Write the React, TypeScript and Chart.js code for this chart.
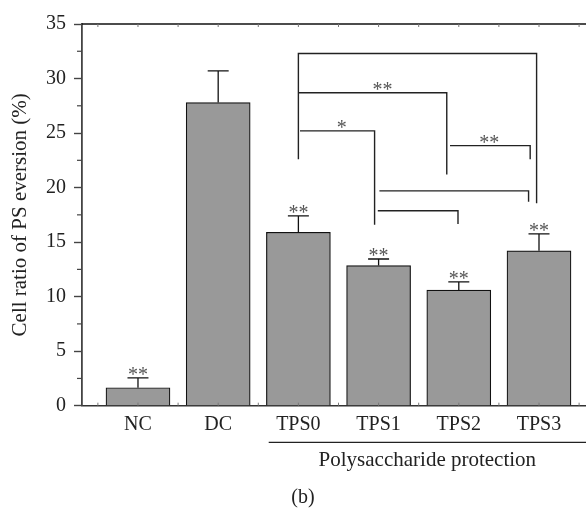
import React, { useEffect, useRef } from "react";
import { Chart, registerables } from "chart.js";

Chart.register(...registerables);

const categories = ["NC", "DC", "TPS0", "TPS1", "TPS2", "TPS3"];
const values = [1.65, 27.8, 15.9, 12.85, 10.6, 14.2];
const errors = [0.9, 2.9, 1.5, 0.6, 0.75, 1.55];
const barStars = ["**", "", "**", "**", "**", "**"];
const yTicks = [0, 5, 10, 15, 20, 25, 30, 35];
const yMinorTicks = [2.5, 7.5, 12.5, 17.5, 22.5, 27.5, 32.5];

// significance brackets: polylines in data units (x = category position, y = value)
const brackets: { pts: number[][]; label: string; lx: number; ly: number }[] = [
  { pts: [[3.0, 22.6], [3.0, 32.3], [5.97, 32.3], [5.97, 18.56]], label: "", lx: 0, ly: 0 },
  { pts: [[3.0, 28.7], [4.85, 28.7], [4.85, 21.2]], label: "**", lx: 4.05, ly: 28.7 },
  { pts: [[3.02, 25.2], [3.95, 25.2], [3.95, 16.6]], label: "*", lx: 3.54, ly: 25.2 },
  { pts: [[4.89, 23.85], [5.89, 23.85], [5.89, 22.6]], label: "**", lx: 5.38, ly: 23.85 },
  { pts: [[4.01, 19.7], [5.87, 19.7], [5.87, 18.7]], label: "", lx: 0, ly: 0 },
  { pts: [[3.99, 17.88], [4.99, 17.88], [4.99, 16.66]], label: "", lx: 0, ly: 0 },
];

const yTitle = "Cell ratio of PS eversion (%)";
const groupLabel = "Polysaccharide protection";
const groupStart = 2.63;
const panelLabel = "(b)";

const FONT = "'Liberation Serif', 'Times New Roman', serif";

const overlay = {
  id: "overlay",
  afterDatasetsDraw(chart: any) {
    const { ctx, chartArea, scales } = chart;
    const xs = scales.x;
    const ys = scales.y;
    ctx.save();
    // top border
    ctx.strokeStyle = "#111";
    ctx.lineWidth = 1.5;
    ctx.beginPath();
    ctx.moveTo(chartArea.left, chartArea.top);
    ctx.lineTo(chartArea.right, chartArea.top);
    ctx.stroke();

    // minor ticks on y
    ctx.strokeStyle = "#444";
    ctx.lineWidth = 1.2;
    yMinorTicks.forEach((v) => {
      const py = ys.getPixelForValue(v);
      ctx.beginPath();
      ctx.moveTo(chartArea.left - 5, py);
      ctx.lineTo(chartArea.left, py);
      ctx.stroke();
    });
    // tiny ticks on top and bottom
    ctx.lineWidth = 1;
    ctx.strokeStyle = "#777";
    for (let v = 0.5; v <= 6.5; v += 0.5) {
      const px = xs.getPixelForValue(v);
      if (px <= chartArea.left + 2 || px >= chartArea.right) continue;
      ctx.beginPath();
      ctx.moveTo(px, chartArea.top);
      ctx.lineTo(px, chartArea.top + 3);
      ctx.moveTo(px, chartArea.bottom);
      ctx.lineTo(px, chartArea.bottom - 3);
      ctx.stroke();
    }

    // error bars and stars
    ctx.strokeStyle = "#111";
    ctx.lineWidth = 1.3;
    categories.forEach((c, i) => {
      const px = xs.getPixelForValue(i + 1);
      const top = ys.getPixelForValue(values[i]);
      const cap = ys.getPixelForValue(values[i] + errors[i]);
      ctx.beginPath();
      ctx.moveTo(px, top);
      ctx.lineTo(px, cap);
      ctx.moveTo(px - 10.5, cap);
      ctx.lineTo(px + 10.5, cap);
      ctx.stroke();
      if (barStars[i]) {
        ctx.fillStyle = "#555";
        ctx.font = `20px ${FONT}`;
        ctx.textAlign = "center";
        ctx.textBaseline = "alphabetic";
        ctx.fillText(barStars[i], px, cap + 3);
      }
    });

    // brackets
    ctx.strokeStyle = "#222";
    ctx.lineWidth = 1.4;
    brackets.forEach((b) => {
      ctx.beginPath();
      b.pts.forEach((p, k) => {
        const px = xs.getPixelForValue(p[0]);
        const py = ys.getPixelForValue(p[1]);
        if (k === 0) ctx.moveTo(px, py);
        else ctx.lineTo(px, py);
      });
      ctx.stroke();
      if (b.label) {
        ctx.fillStyle = "#555";
        ctx.font = `20px ${FONT}`;
        ctx.textAlign = "center";
        ctx.textBaseline = "alphabetic";
        ctx.fillText(b.label, xs.getPixelForValue(b.lx), ys.getPixelForValue(b.ly) + 3);
      }
    });

    // group line and label
    const gx0 = xs.getPixelForValue(groupStart);
    const gx1 = chart.width;
    const gy = chartArea.bottom + 36.6;
    ctx.strokeStyle = "#222";
    ctx.lineWidth = 1.3;
    ctx.beginPath();
    ctx.moveTo(gx0, gy);
    ctx.lineTo(gx1, gy);
    ctx.stroke();
    ctx.fillStyle = "#222";
    ctx.font = `21px ${FONT}`;
    ctx.textAlign = "center";
    ctx.textBaseline = "middle";
    ctx.fillText(groupLabel, (gx0 + gx1) / 2, chartArea.bottom + 55);

    ctx.font = `20px ${FONT}`;
    ctx.fillText(panelLabel, chart.width / 2 + 10, chartArea.bottom + 92);
    ctx.restore();
  },
};

export default function App() {
  const ref = useRef<HTMLCanvasElement>(null);
  useEffect(() => {
    if (!ref.current) return;
    const chart = new Chart(ref.current, {
      type: "bar",
      data: {
        datasets: [
          {
            data: categories.map((c, i) => ({ x: i + 1, y: values[i] })),
            backgroundColor: "#999999",
            borderColor: "#111",
            borderWidth: 1.2,
            barThickness: 64,
          },
        ],
      },
      options: {
        animation: false,
        responsive: false,
        layout: { padding: { top: 24, right: 0, bottom: 0, left: 0 } },
        plugins: { legend: { display: false }, tooltip: { enabled: false } },
        scales: {
          x: {
            type: "linear",
            offset: false,
            min: 0.302,
            max: 6.586,
            grid: { display: false, drawTicks: false, offset: false },
            border: { display: true, color: "#333", width: 1.5 },
            afterBuildTicks: (scale: any) => {
              scale.ticks = categories.map((c, i) => ({ value: i + 1 }));
            },
            afterFit: (scale: any) => {
              scale.height = 104.3;
            },
            ticks: {
              autoSkip: false,
              maxRotation: 0,
              padding: 7,
              color: "#222",
              font: { family: FONT, size: 20 },
              callback: (v: any) => categories[Math.round(v) - 1] ?? "",
            },
          },
          y: {
            min: 0,
            max: 35,
            afterBuildTicks: (scale: any) => {
              scale.ticks = yTicks.map((v) => ({ value: v }));
            },
            afterFit: (scale: any) => {
              scale.width = 82;
            },
            grid: {
              display: true,
              drawOnChartArea: false,
              drawTicks: true,
              tickLength: 8,
              tickColor: "#444",
              tickWidth: 1.4,
            },
            border: { display: true, color: "#444", width: 1.8 },
            ticks: {
              padding: 8,
              color: "#222",
              font: { family: FONT, size: 20 },
            },
            title: {
              display: true,
              text: yTitle,
              color: "#222",
              font: { family: FONT, size: 21 },
              padding: { top: 8, bottom: 0 },
            },
          },
        },
      },
      plugins: [overlay],
    } as any);
    return () => chart.destroy();
  }, []);
  return (
    <div style={{ position: "fixed", left: 0, top: 0, width: 586, height: 510, background: "#fff" }}>
      <canvas ref={ref} width={586} height={510} />
    </div>
  );
}
